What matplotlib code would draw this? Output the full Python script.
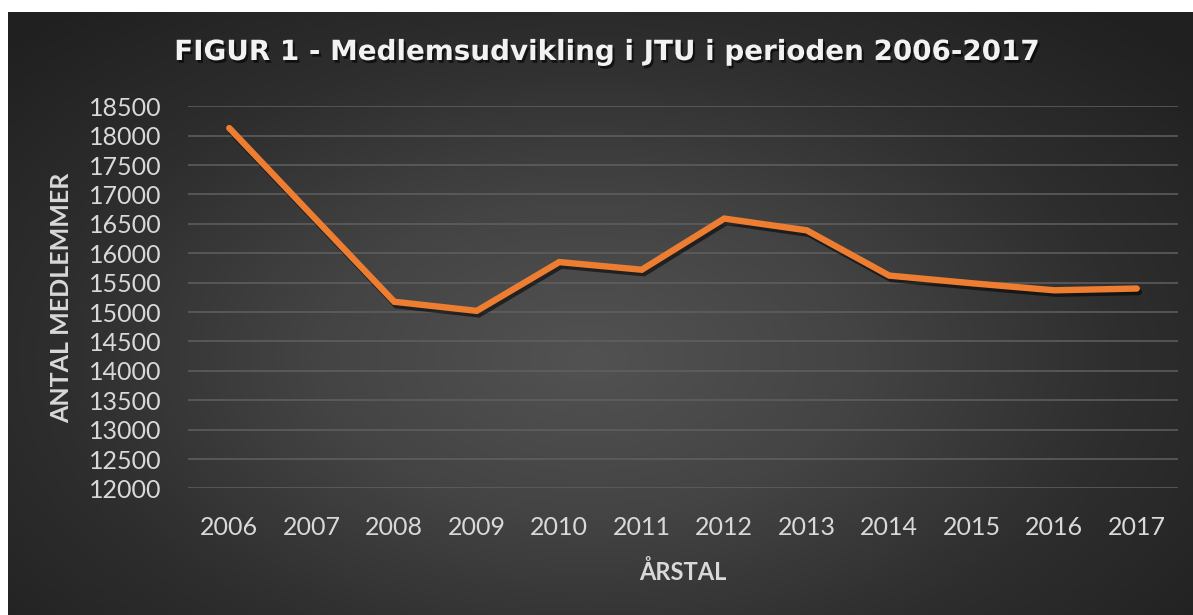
import numpy as np
from matplotlib import pyplot as plt
from matplotlib import patheffects as pe
from matplotlib.colors import LinearSegmentedColormap

years = ['2006', '2007', '2008', '2009', '2010', '2011',
         '2012', '2013', '2014', '2015', '2016', '2017']
members = [18130, 16650, 15175, 15020, 15850, 15720,
           16590, 16390, 15620, 15490, 15370, 15400]
y_ticks = list(range(12000, 18501, 500))

title = 'FIGUR 1 - Medlemsudvikling i JTU i perioden 2006-2017'
x_label = 'ÅRSTAL'
y_label = 'ANTAL MEDLEMMER'

plt.rcParams['font.family'] = ['Lato', 'DejaVu Sans']

W, H = 1193, 615
fig = plt.figure(figsize=(W / 100, H / 100), dpi=100, facecolor='white')

# radial gradient background
bg = fig.add_axes([8 / W, 0, 1 - 8 / W, 603 / H])
gx, gy = np.meshgrid(np.linspace(-1, 1, 600), np.linspace(-1, 1, 320))
r = np.sqrt(((gx + 0.02) / 1.0) ** 2 + ((gy - 0.15) / 1.15) ** 2)
r = np.clip(r / 1.35, 0, 1)
cmap = LinearSegmentedColormap.from_list('bg', ['#525252', '#444444', '#2e2e2e', '#202020'])
bg.imshow(r, cmap=cmap, aspect='auto', vmin=0, vmax=1, interpolation='bilinear')
bg.axis('off')

ax = fig.add_axes([188 / W, (H - 488.4) / H, (1178 - 188) / W, (488.4 - 106.3) / H])
ax.set_facecolor('none')

x = np.arange(len(years))
ax.plot(x, members, color='#ED7D31', lw=4.6, solid_capstyle='round', solid_joinstyle='miter',
        path_effects=[pe.SimpleLineShadow(offset=(1.5, -2.5), shadow_color='black', alpha=0.55),
                      pe.Normal()], zorder=3)

ax.set_xlim(-0.5, len(years) - 0.5)
ax.set_ylim(12000, 18500)
ax.set_xticks(x)
ax.set_xticklabels(years)
ax.set_yticks(y_ticks)
ax.yaxis.grid(True, color='#606060', lw=1.1)
ax.set_axisbelow(True)
for s in ax.spines.values():
    s.set_visible(False)
ax.tick_params(axis='both', length=0, labelsize=18, labelcolor='#d9d9d9')
ax.tick_params(axis='y', pad=19)
ax.tick_params(axis='x', pad=20)

fig.text(607 / W, (H - 52) / H, title, ha='center', va='center', fontsize=20,
         fontweight='bold', color='#f2f2f2', family=['DejaVu Sans'],
         path_effects=[pe.withSimplePatchShadow(offset=(1.5, -2), shadow_rgbFace='black', alpha=0.6)])
fig.text(683 / W, (H - 572) / H, x_label, ha='center', va='center', fontsize=17,
         fontweight='bold', color='#d9d9d9')
fig.text(62 / W, (H - 298) / H, y_label, ha='center', va='center', rotation=90,
         fontsize=18, fontweight='bold', color='#d9d9d9')

fig.savefig('out.png', dpi=100, facecolor='white')
